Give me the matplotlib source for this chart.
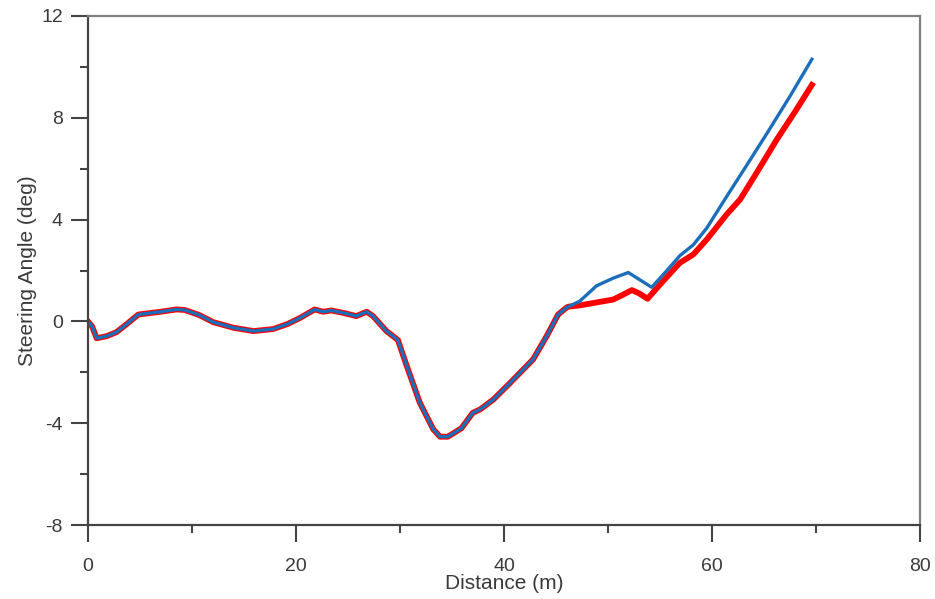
import matplotlib
matplotlib.use('Agg')
import matplotlib.pyplot as plt
from matplotlib.ticker import MultipleLocator

# -- Data --
dist_common = [0, 0.4, 0.83, 1.8, 2.75, 3.8, 4.84, 5.6, 7.0, 8.5, 9.3, 10.7, 12.05,
               14.0, 15.9, 17.8, 19.2, 20.4, 21.8, 22.6, 23.4, 24.6, 25.8, 26.8,
               27.4, 28.7, 29.8, 30.6, 31.9, 33.2, 33.85, 34.6, 35.9, 37.0, 37.7,
               39.0, 40.6, 42.8, 44.1, 45.2, 46.0]
angle_common = [0, -0.2, -0.66, -0.58, -0.42, -0.08, 0.27, 0.31, 0.38, 0.47, 0.45, 0.25,
                -0.03, -0.25, -0.38, -0.3, -0.1, 0.14, 0.47, 0.38, 0.43, 0.33, 0.21,
                0.38, 0.21, -0.38, -0.73, -1.69, -3.19, -4.24, -4.53, -4.53, -4.2,
                -3.59, -3.46, -3.06, -2.41, -1.49, -0.58, 0.27, 0.54]

dist_blue = [46.2, 47.3, 48.9, 50.5, 51.95, 53.0, 54.2, 55.6, 56.9, 58.2, 59.5,
             61.1, 63.2, 65.3, 67.5, 69.6]
angle_blue = [0.58, 0.8, 1.4, 1.7, 1.92, 1.65, 1.34, 1.97, 2.58, 3.01, 3.67,
              4.71, 6.05, 7.4, 8.85, 10.3]

dist_red = [46.2, 47.3, 50.5, 51.3, 52.3, 53.0, 53.8, 55.0, 56.9, 58.2, 59.5,
            61.4, 62.7, 64.5, 66.2, 68.0, 69.6]
angle_red = [0.58, 0.63, 0.86, 1.02, 1.23, 1.1, 0.89, 1.45, 2.3, 2.63, 3.22,
             4.2, 4.79, 5.98, 7.13, 8.25, 9.29]

x_ticks = [0, 20, 40, 60, 80]
y_ticks = [-8, -4, 0, 4, 8, 12]

BLUE = '#1b6fba'
RED = '#ff0000'
TEXT = '#3a3a3a'

plt.rcParams['font.family'] = ['Liberation Sans', 'DejaVu Sans']
plt.rcParams['axes.unicode_minus'] = False

fig = plt.figure(figsize=(9.35, 5.99), dpi=100)
ax = fig.add_axes([0.0941, 0.1235, 0.8899, 0.8498])

red_x = dist_common + dist_red
red_y = angle_common + angle_red
blue_x = dist_common + dist_blue
blue_y = angle_common + angle_blue

ax.plot(red_x, red_y, color=RED, linewidth=4.2, solid_joinstyle='round')
ax.plot(blue_x, blue_y, color=BLUE, linewidth=2.4, solid_joinstyle='round')

ax.set_xlim(0, 80)
ax.set_ylim(-8, 12)
ax.set_xticks(x_ticks)
ax.set_yticks(y_ticks)
ax.xaxis.set_minor_locator(MultipleLocator(10))
ax.yaxis.set_minor_locator(MultipleLocator(2))

ax.tick_params(which='major', direction='out', length=12, width=1.5,
               color='#444444', labelsize=14, labelcolor=TEXT)
ax.tick_params(axis='y', which='major', pad=6)
ax.tick_params(axis='x', which='major', pad=12)
ax.tick_params(which='minor', direction='out', length=6, width=1.5,
               color='#444444')

for side in ['left', 'bottom']:
    ax.spines[side].set_color('#444444')
    ax.spines[side].set_linewidth(1.6)
for side in ['top', 'right']:
    ax.spines[side].set_color('#808080')
    ax.spines[side].set_linewidth(1.6)

ax.set_xlabel('Distance (m)', fontsize=15, color=TEXT, labelpad=-1)
ax.set_ylabel('Steering Angle (deg)', fontsize=15, color=TEXT, labelpad=3)

fig.savefig('out.png', dpi=100, facecolor='white')
plt.close(fig)
